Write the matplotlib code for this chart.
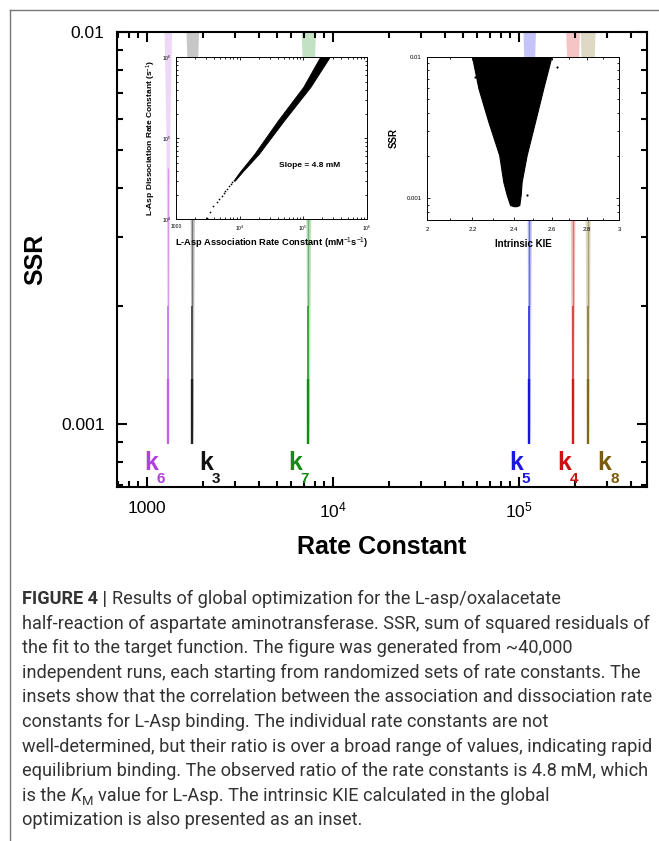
import matplotlib
matplotlib.use('Agg')
import matplotlib.pyplot as plt
from matplotlib.lines import Line2D
from matplotlib.ticker import FixedLocator, FixedFormatter, NullFormatter, LogLocator

plt.rcParams['font.family'] = ['Liberation Sans', 'DejaVu Sans']
plt.rcParams['mathtext.fontset'] = 'custom'
plt.rcParams['mathtext.rm'] = 'Liberation Sans'
plt.rcParams['mathtext.it'] = 'Liberation Sans:italic'
plt.rcParams['mathtext.bf'] = 'Liberation Sans:bold'

# main panel: SSR versus fitted rate constant, one vertical cloud per constant
k_names = ['6', '3', '7', '5', '4', '8']
k_centers = [1300, 1760, 7400, 114000, 195000, 235000]
k_spread = [0.6, 1.0, 1.15, 1.0, 1.1, 1.2]
cloud_colors = ['#c061e6', '#222222', '#128c12', '#1515e8', '#d91818', '#7f6a18']
label_colors = ['#b23fe0', '#111111', '#178a17', '#1a1ade', '#cc1111', '#7a5a0c']
label_x = [970, 1920, 5740, 88900, 161000, 266000]

# cloud half-width (decades) along SSR
ssr_levels = [0.00089, 0.001, 0.0015, 0.002, 0.003, 0.004, 0.006, 0.008, 0.0105]
spread_dec = [0.002, 0.005, 0.007, 0.0086, 0.0108, 0.0134, 0.019, 0.027, 0.035]

# inset 1: L-Asp dissociation vs association rate constant
band_koff = [3.0e4, 3.9e4, 6.4e4, 1.66e5, 4.3e5, 1.05e6]
band_kon_lo = [8.0e3, 1.02e4, 1.7e4, 4.0e4, 1.0e5, 1.9e5]
band_kon_hi = [8.4e3, 1.12e4, 2.0e4, 5.0e4, 1.3e5, 2.7e5]
kon_sparse = [3100, 3430, 3870, 4400, 4800, 5200, 5600, 6000, 6400, 6900, 7300, 7700]
koff_sparse = [10300, 12400, 14400, 16500, 18000, 19500, 21000, 22500, 24000, 25500, 27000, 28500]

# inset 2: SSR vs intrinsic KIE funnel
kie_ssr = [0.00088, 0.000897, 0.00106, 0.00131, 0.00202, 0.00348, 0.00598, 0.0102]
kie_lo = [2.40, 2.382, 2.365, 2.348, 2.328, 2.275, 2.228, 2.197]
kie_hi = [2.415, 2.429, 2.436, 2.441, 2.467, 2.511, 2.555, 2.601]
kie_out_x = [2.212, 2.63, 2.467]
kie_out_y = [0.00723, 0.0085, 0.00105]

caption = [
    [('FIGURE 4 |', 'bold'), (' ', 'sp'), ('Results of global optimization for the L-asp/oxalacetate', 'reg')],
    [('half-reaction of aspartate aminotransferase. SSR, sum of squared residuals of', 'reg')],
    [('the fit to the target function. The figure was generated from ~40,000', 'reg')],
    [('independent runs, each starting from randomized sets of rate constants. The', 'reg')],
    [('insets show that the correlation between the association and dissociation rate', 'reg')],
    [('constants for L-Asp binding. The individual rate constants are not', 'reg')],
    [('well-determined, but their ratio is over a broad range of values, indicating rapid', 'reg')],
    [('equilibrium binding. The observed ratio of the rate constants is 4.8\u2009mM, which', 'reg')],
    [('is the', 'reg'), (' ', 'sp'), ('K', 'italic'), ('M', 'sub'), (' ', 'sp'),
     ('value for L-Asp. The intrinsic KIE calculated in the global', 'reg')],
    [('optimization is also presented as an inset.', 'reg')],
]

W, H = 659, 841
fig = plt.figure(figsize=(W / 100, H / 100), dpi=100)
fig.patch.set_facecolor('white')

# thin frame of the figure page
fig.add_artist(Line2D([10 / W, 1], [1 - 10 / H, 1 - 10 / H], color='#777777', lw=1))
fig.add_artist(Line2D([10 / W, 10 / W], [1 - 10 / H, 0], color='#777777', lw=1))

# ---- main axes
ax = fig.add_axes([117 / W, 1 - 487 / H, 530 / W, 455 / H])
ax.set_xscale('log')
ax.set_yscale('log')

for c, col, s in zip(k_centers, cloud_colors, k_spread):
    lo = [c * 10 ** (-w * s) for w in spread_dec]
    hi = [c * 10 ** (w * s) for w in spread_dec]
    ax.fill_betweenx(ssr_levels, lo, hi, color=col, alpha=0.25, lw=0)
    ax.plot([c, c], [ssr_levels[0], 0.0013], color=col, lw=1.7, solid_capstyle='butt')
    ax.plot([c, c], [0.0013, 0.002], color=col, lw=1.3, alpha=0.8, solid_capstyle='butt')
    ax.plot([c, c], [0.002, 0.0045], color=col, lw=1.0, alpha=0.5, solid_capstyle='butt')

for name, lx, col in zip(k_names, label_x, label_colors):
    ax.text(lx, 0.000795, 'k', color=col, fontsize=18, fontweight='bold',
            ha='left', va='center')
    ax.annotate(name, xy=(lx, 0.000795), xytext=(9.2, -11.5), textcoords='offset points',
                color=col, fontsize=11, fontweight='bold', ha='left', va='center')

ax.set_xlim(693, 4.9e5)
ax.set_ylim(0.00069, 0.01)
ax.xaxis.set_major_locator(FixedLocator([1e3, 1e4, 1e5]))
ax.xaxis.set_major_formatter(FixedFormatter(['1000', '$10^4$', '$10^5$']))
ax.xaxis.set_minor_locator(LogLocator(base=10, subs=range(2, 10)))
ax.xaxis.set_minor_formatter(NullFormatter())
ax.yaxis.set_major_locator(FixedLocator([0.001, 0.01]))
ax.yaxis.set_major_formatter(FixedFormatter(['0.001', '0.01']))
ax.yaxis.set_minor_locator(LogLocator(base=10, subs=range(2, 10)))
ax.yaxis.set_minor_formatter(NullFormatter())
ax.tick_params(which='both', direction='in', top=True, right=True, width=1.5, labelsize=12.5)
ax.tick_params(which='major', length=7)
ax.tick_params(which='minor', length=4)
ax.tick_params(axis='x', pad=10)
ax.tick_params(axis='y', pad=9)
for sp in ax.spines.values():
    sp.set_linewidth(1.5)
ax.set_xlabel('Rate Constant', fontsize=18, fontweight='bold', labelpad=10)
ax.set_ylabel('SSR', fontsize=18, fontweight='bold', labelpad=10)

# ---- inset 1
ax1 = fig.add_axes([176 / W, 1 - 219.3 / H, 190.7 / W, 162 / H])
ax1.set_facecolor('white')
ax1.set_xscale('log')
ax1.set_yscale('log')
ax1.fill_betweenx(band_koff, band_kon_lo, band_kon_hi, color='black', lw=0.6)
ax1.scatter(kon_sparse, koff_sparse, s=1.5, color='black', lw=0)
ax1.set_xlim(1e3, 1e6)
ax1.set_ylim(1e4, 1e6)
ax1.xaxis.set_major_locator(FixedLocator([1e3, 1e4, 1e5, 1e6]))
ax1.xaxis.set_major_formatter(FixedFormatter(['1000', '$10^4$', '$10^5$', '$10^6$']))
ax1.yaxis.set_major_locator(FixedLocator([1e4, 1e5, 1e6]))
ax1.yaxis.set_major_formatter(FixedFormatter(['$10^4$', '$10^5$', '$10^6$']))
for a in (ax1.xaxis, ax1.yaxis):
    a.set_minor_locator(LogLocator(base=10, subs=range(2, 10)))
    a.set_minor_formatter(NullFormatter())
ax1.tick_params(which='both', direction='in', top=True, right=True, width=0.6, labelsize=3.6)
ax1.tick_params(axis='x', pad=3.2)
ax1.tick_params(axis='y', pad=3)
ax1.tick_params(which='major', length=2.5)
ax1.tick_params(which='minor', length=1.3)
for sp in ax1.spines.values():
    sp.set_linewidth(0.7)
ax1.text(0.703, 0.335, 'Slope = 4.8 mM', transform=ax1.transAxes, fontsize=6,
         fontweight='bold', ha='center', va='center')
ax1.set_xlabel('L-Asp Association Rate Constant (mM$^{-1}$s$^{-1}$)', fontsize=6.7,
               fontweight='bold', labelpad=2)
ax1.set_ylabel('L-Asp Dissociation Rate Constant (s$^{-1}$)', fontsize=6,
               fontweight='bold', labelpad=3)

# ---- inset 2
ax2 = fig.add_axes([427.3 / W, 1 - 220 / H, 192 / W, 163.3 / H])
ax2.set_facecolor('white')
ax2.set_xscale('log')
ax2.set_yscale('log')
ax2.fill_betweenx(kie_ssr, kie_lo, kie_hi, color='black', lw=0.8)
ax2.scatter(kie_out_x, kie_out_y, s=2.5, color='black', lw=0)
ax2.set_xlim(2, 3)
ax2.set_ylim(0.000703, 0.01)
ax2.xaxis.set_major_locator(FixedLocator([2, 2.2, 2.4, 2.6, 2.8, 3]))
ax2.xaxis.set_major_formatter(FixedFormatter(['2', '2.2', '2.4', '2.6', '2.8', '3']))
ax2.xaxis.set_minor_locator(FixedLocator([2.1, 2.3, 2.5, 2.7, 2.9]))
ax2.xaxis.set_minor_formatter(NullFormatter())
ax2.yaxis.set_major_locator(FixedLocator([0.001, 0.01]))
ax2.yaxis.set_major_formatter(FixedFormatter(['0.001', '0.01']))
ax2.yaxis.set_minor_locator(LogLocator(base=10, subs=range(2, 10)))
ax2.yaxis.set_minor_formatter(NullFormatter())
ax2.tick_params(which='both', direction='in', top=True, right=True, width=0.6, labelsize=4.3)
ax2.tick_params(which='major', length=2.5)
ax2.tick_params(which='minor', length=1.3)
ax2.tick_params(axis='x', pad=5)
ax2.tick_params(axis='y', pad=4)
for sp in ax2.spines.values():
    sp.set_linewidth(0.7)
ax2.set_xlabel('Intrinsic KIE', fontsize=7, fontweight='bold', labelpad=5)
ax2.set_ylabel('SSR', fontsize=7, fontweight='bold', labelpad=6)

# ---- caption
renderer = fig.canvas.get_renderer()
cap_font = 'Roboto'


def seg_text(x, y, s, kind, fs):
    kw = dict(fontsize=fs, family=[cap_font, 'DejaVu Sans'], va='baseline', ha='left',
              color='#333333', fontweight='normal')
    if kind == 'bold':
        kw['fontweight'] = 'bold'
    elif kind == 'italic':
        kw['fontstyle'] = 'italic'
    elif kind == 'sub':
        kw['fontsize'] = fs * 0.72
        y = y - 4 / H
    return fig.text(x, y, s, **kw)


probe = seg_text(0, 0, caption[1][0][0], 'reg', 12)
w12 = probe.get_window_extent(renderer).width
probe.remove()
cap_fs = 12 * 624 / w12
probe = seg_text(0, 0, 'x x', 'reg', cap_fs)
probe2 = seg_text(0, 0, 'xx', 'reg', cap_fs)
space_w = probe.get_window_extent(renderer).width - probe2.get_window_extent(renderer).width
probe.remove()
probe2.remove()

for i, line in enumerate(caption):
    y = 1 - (604 + 24.6 * i) / H
    x_px = 22.0
    for s, kind in line:
        if kind == 'sp':
            x_px += space_w
            continue
        t = seg_text(x_px / W, y, s, kind, cap_fs)
        x_px += t.get_window_extent(renderer).width

fig.savefig('out.png', dpi=100, facecolor='white')
